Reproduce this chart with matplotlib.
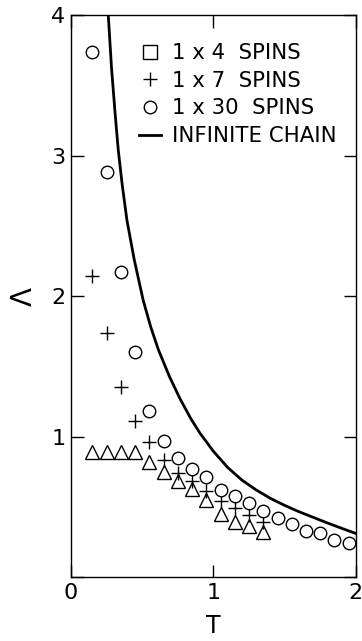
import matplotlib
matplotlib.use("Agg")
import matplotlib.pyplot as plt
from matplotlib.lines import Line2D

# 1x4 spins (plotted as triangles)
T4 = [0.15, 0.25, 0.35, 0.45, 0.55, 0.65, 0.75, 0.85, 0.95, 1.05, 1.15, 1.25, 1.35]
L4 = [0.89, 0.89, 0.89, 0.89, 0.82, 0.75, 0.68, 0.63, 0.55, 0.45, 0.39, 0.36, 0.32]

# 1x7 spins
T7 = [0.15, 0.25, 0.35, 0.45, 0.55, 0.65, 0.75, 0.85, 0.95, 1.05, 1.15, 1.25, 1.35]
L7 = [2.14, 1.74, 1.35, 1.11, 0.96, 0.83, 0.74, 0.68, 0.61, 0.54, 0.49, 0.44, 0.39]

# 1x30 spins
T30 = [0.15, 0.25, 0.35, 0.45, 0.55, 0.65, 0.75, 0.85, 0.95, 1.05, 1.15, 1.25,
       1.35, 1.45, 1.55, 1.65, 1.75, 1.85, 1.95]
L30 = [3.74, 2.88, 2.17, 1.60, 1.18, 0.97, 0.85, 0.77, 0.71, 0.62, 0.58, 0.53,
       0.47, 0.42, 0.38, 0.33, 0.31, 0.26, 0.24]

# infinite chain
Tinf = [0.262, 0.285, 0.31, 0.332, 0.36, 0.393, 0.444, 0.507, 0.56, 0.613, 0.69,
        0.765, 0.84, 0.905, 1.0, 1.1, 1.2, 1.3, 1.4, 1.5, 1.6, 1.7, 1.8, 1.9, 2.0]
Linf = [4.00, 3.62, 3.30, 3.04, 2.79, 2.54, 2.26, 1.97, 1.78, 1.62, 1.43,
        1.27, 1.13, 1.025, 0.895, 0.78, 0.69, 0.62, 0.56, 0.51, 0.465, 0.425, 0.385, 0.347, 0.31]

legend_labels = ["1 x 4  SPINS", "1 x 7  SPINS", "1 x 30  SPINS", "INFINITE CHAIN"]
xticks = [0, 1, 2]
xticklabels = ["0", "1", "2"]
yticks = [0, 1, 2, 3, 4]
yticklabels = ["", "1", "2", "3", "4"]

plt.rcParams['font.family'] = ['DejaVu Sans']
fig = plt.figure(figsize=(3.62, 6.41), dpi=100)
ax = fig.add_axes([0.196, 0.0998, 0.787, 0.8768])

ax.plot(Tinf, Linf, color='black', lw=2.0, solid_joinstyle='round')
ax.plot(T4, L4, linestyle='none', marker='^', ms=10, mfc='white', mec='black', mew=1.0)
ax.plot(T7, L7, linestyle='none', marker='+', ms=10, color='black', mew=1.0)
ax.plot(T30, L30, linestyle='none', marker='o', ms=9, mfc='white', mec='black', mew=1.0)

ax.set_xlim(0, 2)
ax.set_ylim(0, 4)
ax.set_xticks(xticks)
ax.set_xticklabels(xticklabels)
ax.set_yticks(yticks)
ax.set_yticklabels(yticklabels)
ax.tick_params(direction='in', length=9, width=1.0, labelsize=16,
               top=True, right=True)
ax.tick_params(axis='x', pad=4)
ax.tick_params(axis='y', pad=4)
for s in ax.spines.values():
    s.set_linewidth(1.0)

ax.set_xlabel("T", fontsize=17, va='baseline')
ax.xaxis.set_label_coords(0.5, -0.0996)
ax.set_ylabel("Λ", fontsize=20, labelpad=10)

handles = [
    Line2D([], [], linestyle='none', marker='s', ms=10, mfc='white', mec='black', mew=1.0),
    Line2D([], [], linestyle='none', marker='+', ms=10, color='black', mew=1.0),
    Line2D([], [], linestyle='none', marker='o', ms=9, mfc='white', mec='black', mew=1.0),
    Line2D([], [], color='black', lw=2.0),
]
ax.legend(handles, legend_labels, loc='upper left', frameon=False, fontsize=15.3,
          handlelength=1.0, handletextpad=0.55, labelspacing=0.36,
          bbox_to_anchor=(0.21, 0.965), borderaxespad=0.0)

fig.savefig("out.png", dpi=100, facecolor='white')
